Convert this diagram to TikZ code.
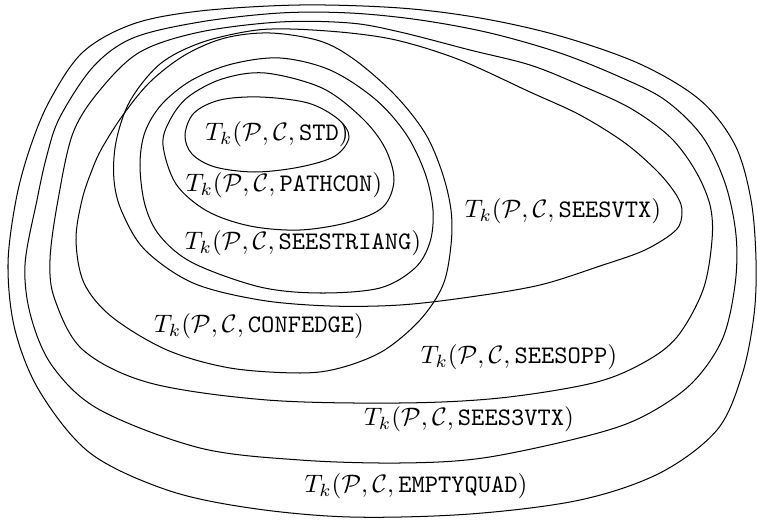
\documentclass[tikz,border=0pt]{standalone}
\usepackage{amsmath}
\newcommand\Tk[1]{$T_k(\mathcal{P},\mathcal{C},\texttt{#1})$}
\tikzset{
  region/.style={draw=black, line width=0.4pt},
  lbl/.style={inner sep=0pt, font=\normalsize}
}
\begin{document}
\begin{tikzpicture}[x=0.396pt, y=-0.396pt]
\useasboundingbox (0,0) rectangle (757,523);

% EMPTYQUAD
\draw[region] plot[smooth cycle, tension=0.55] coordinates {
 (8,265) (16,200) (30,148) (50,100) (83,52) (133,24) (200,11) (300,5)
 (400,8) (480,18) (560,36) (640,64) (700,100) (735,145) (751,200)
 (756,260) (754,315) (742,375) (717,430) (660,473) (580,500) (470,514)
 (350,517) (250,508) (167,490) (90,453) (40,392) (15,330)};

% SEES3VTX
\draw[region] plot[smooth cycle, tension=0.55] coordinates {
 (25,265) (37,200) (47,155) (60,117) (93,67) (133,38) (200,22) (280,13)
 (350,13) (420,20) (490,33) (560,53) (620,77) (665,100) (702,136)
 (725,183) (736,235) (735,285) (722,340) (690,385) (640,418) (583,437)
 (483,458) (400,463) (300,460) (200,448) (100,410) (53,367) (31,317)};

% SEESOPP
\draw[region] plot[smooth cycle, tension=0.55] coordinates {
 (50,260) (58,200) (73,133) (100,90) (140,52) (200,32) (280,22) (350,23)
 (400,32) (470,50) (530,65) (580,85) (630,108) (670,137) (695,170)
 (710,205) (712,240) (703,290) (677,337) (643,363) (593,383) (500,398)
 (400,403) (267,400) (150,383) (83,350) (55,300)};

% SEESVTX
\draw[region] plot[smooth cycle, tension=0.55] coordinates {
 (114,180) (116,142) (130,101) (160,64) (200,43) (250,31) (290,29)
 (350,33) (400,41) (460,60) (530,92) (580,115) (625,143) (658,172)
 (677,196) (682,212) (676,230) (645,250) (600,266) (540,285) (470,297)
 (400,305) (330,306) (260,300) (193,283) (145,250) (122,212)};

% CONFEDGE
\draw[region] plot[smooth cycle, tension=0.55] coordinates {
 (76,240) (82,200) (92,170) (102,148) (123,115) (150,82) (185,55)
 (225,38) (270,33) (320,41) (355,60) (395,95) (425,133) (442,172)
 (451,210) (451,245) (443,285) (420,320) (383,351) (340,368) (300,373)
 (230,368) (167,350) (112,317) (84,283)};

% SEESTRIANG
\draw[region] plot[smooth cycle, tension=0.55] coordinates {
 (140,165) (145,132) (162,104) (192,80) (232,64) (280,58) (330,70)
 (375,99) (406,134) (425,173) (433,210) (430,242) (415,268) (380,288)
 (320,293) (260,287) (193,263) (160,236) (145,205)};

% PATHCON
\draw[region] plot[smooth cycle, tension=0.55] coordinates {
 (163,145) (170,120) (188,97) (222,79) (265,73) (322,88) (362,118)
 (385,148) (394,180) (383,207) (350,222) (300,230) (250,226) (207,211)
 (176,184)};

% STD
\draw[region] plot[smooth cycle, tension=0.55] coordinates {
 (185,135) (194,113) (220,100) (260,97) (308,103) (338,119) (349,137)
 (335,156) (300,167) (255,172) (215,167) (192,154)};

% labels
\node[lbl] (std)       at (277,134) {\Tk{STD}};
\node[lbl] (pathcon)   at (284,185) {\Tk{PATHCON}};
\node[lbl] (seestri)   at (303,243) {\Tk{SEESTRIANG}};
\node[lbl] (seesvtx)   at (563,211) {\Tk{SEESVTX}};
\node[lbl] (confedge)  at (259,326) {\Tk{CONFEDGE}};
\node[lbl] (seesopp)   at (519,357) {\Tk{SEESOPP}};
\node[lbl] (sees3vtx)  at (469,419) {\Tk{SEES3VTX}};
\node[lbl] (emptyquad) at (416,486) {\Tk{EMPTYQUAD}};
\end{tikzpicture}
\end{document}
